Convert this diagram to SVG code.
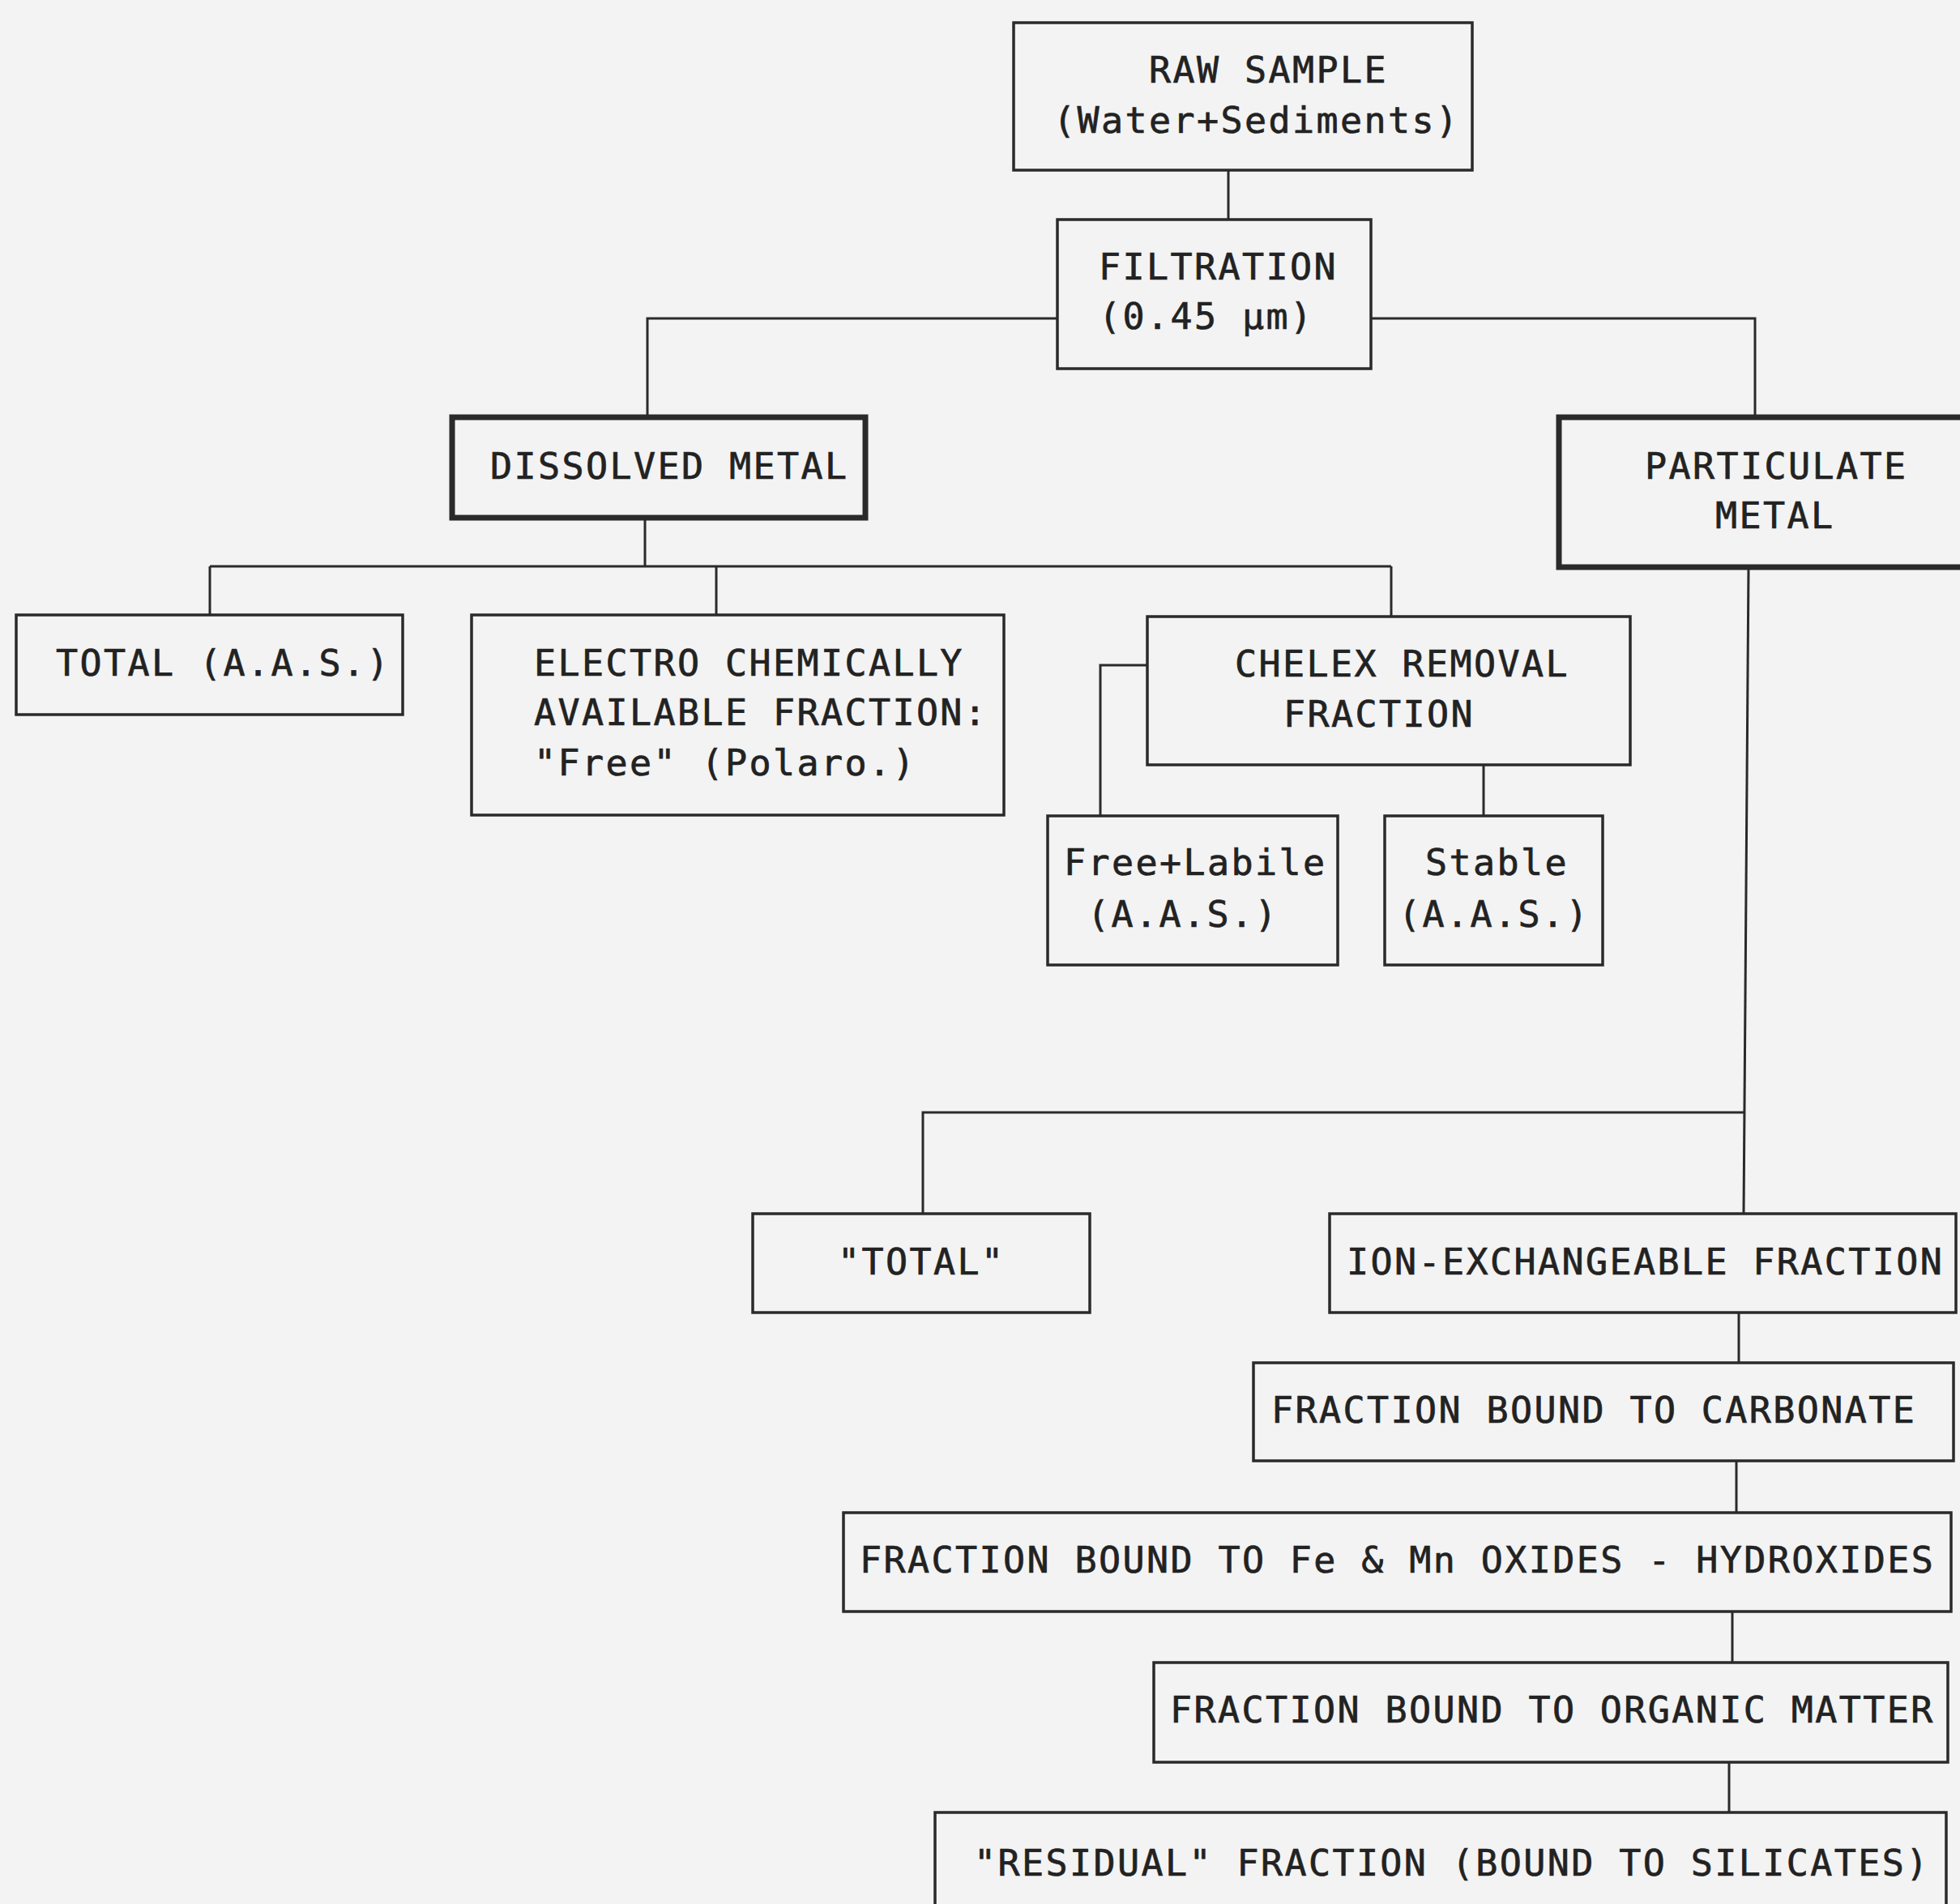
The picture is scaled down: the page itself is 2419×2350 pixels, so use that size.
<svg xmlns="http://www.w3.org/2000/svg" width="2419" height="2350" viewBox="0 0 2419 2350">
<style>
.b{fill:none;stroke:#2a2a2a;stroke-width:3.5}
.t{fill:none;stroke:#2a2a2a;stroke-width:7}
.c{fill:none;stroke:#2a2a2a;stroke-width:3}
text{font-family:"DejaVu Sans Mono","Liberation Mono",monospace;font-size:45px;letter-spacing:2.4px;fill:#222;stroke:#222;stroke-width:0.7}
</style>
<rect width="2419" height="2350" fill="#f3f3f3"/>
<g id="connectors">
<path class="c" d="M1516 210V271"/>
<path class="c" d="M1305 393H799V515"/>
<path class="c" d="M1692 393H2166V515"/>
<path class="c" d="M796 639V699M259 699H1717M259 699V759M884 699V759M1717 699V761"/>
<path class="c" d="M1416 821H1358V1007"/>
<path class="c" d="M1831 944V1007"/>
<path class="c" d="M2158 700L2152 1498"/>
<path class="c" d="M2153 1373H1139V1498"/>
<path class="c" d="M2146 1620V1682"/>
<path class="c" d="M2143 1803V1867"/>
<path class="c" d="M2138 1989V2052"/>
<path class="c" d="M2134 2175V2237"/>
</g>
<g id="raw"><rect class="b" x="1251" y="28" width="566" height="182"/><text x="1418" y="102">RAW SAMPLE</text><text x="1300" y="164">(Water+Sediments)</text></g>
<g id="filtration"><rect class="b" x="1305" y="271" width="387" height="184"/><text x="1356" y="345">FILTRATION</text><text x="1356" y="406">(0.45 µm)</text></g>
<g id="dissolved"><rect class="t" x="558" y="515" width="510" height="124"/><text x="605" y="591">DISSOLVED METAL</text></g>
<g id="particulate"><rect class="t" x="1924" y="515" width="520" height="185"/><text x="2030" y="591">PARTICULATE</text><text x="2117" y="652">METAL</text></g>
<g id="total-aas"><rect class="b" x="20" y="759" width="477" height="123"/><text x="69" y="834">TOTAL (A.A.S.)</text></g>
<g id="electro"><rect class="b" x="582" y="759" width="657" height="247"/><text x="659" y="834">ELECTRO CHEMICALLY</text><text x="659" y="895">AVAILABLE FRACTION:</text><text x="659" y="957">"Free" (Polaro.)</text></g>
<g id="chelex"><rect class="b" x="1416" y="761" width="596" height="183"/><text x="1524" y="835">CHELEX REMOVAL</text><text x="1584" y="897">FRACTION</text></g>
<g id="free-labile"><rect class="b" x="1293" y="1007" width="358" height="184"/><text x="1313" y="1080">Free+Labile</text><text x="1342" y="1144">(A.A.S.)</text></g>
<g id="stable"><rect class="b" x="1709" y="1007" width="269" height="184"/><text x="1759" y="1080">Stable</text><text x="1726" y="1144">(A.A.S.)</text></g>
<g id="total-q"><rect class="b" x="929" y="1498" width="416" height="122"/><text x="1034" y="1573">"TOTAL"</text></g>
<g id="ion"><rect class="b" x="1641" y="1498" width="773" height="122"/><text x="1662" y="1573">ION-EXCHANGEABLE FRACTION</text></g>
<g id="carbonate"><rect class="b" x="1547" y="1682" width="864" height="121"/><text x="1569" y="1756">FRACTION BOUND TO CARBONATE</text></g>
<g id="oxides"><rect class="b" x="1041" y="1867" width="1367" height="122"/><text x="1061" y="1941">FRACTION BOUND TO Fe &amp; Mn OXIDES - HYDROXIDES</text></g>
<g id="organic"><rect class="b" x="1424" y="2052" width="980" height="123"/><text x="1444" y="2126">FRACTION BOUND TO ORGANIC MATTER</text></g>
<g id="residual"><rect class="b" x="1154" y="2237" width="1248" height="140"/><text x="1202" y="2315">"RESIDUAL" FRACTION (BOUND TO SILICATES)</text></g>
</svg>
